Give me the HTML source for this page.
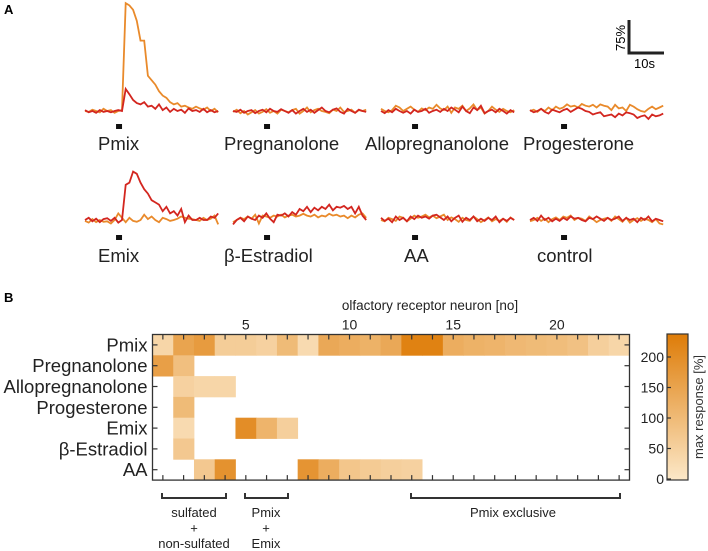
<!DOCTYPE html>
<html><head><meta charset="utf-8"><style>
html,body{margin:0;padding:0;background:#fff;}
svg{display:block;font-family:"Liberation Sans",sans-serif;}
</style></head><body>
<svg id="fig" width="708" height="551" viewBox="0 0 708 551">
<text x="4" y="14" font-size="13" font-weight="bold">A</text>
<text x="4" y="302" font-size="13" font-weight="bold">B</text>
<g>
<path d="M629,20 V53 H664" fill="none" stroke="#222" stroke-width="3"/>
<text x="0" y="0" font-size="13" transform="translate(625,51) rotate(-90)">75%</text>
<text x="634" y="68" font-size="13">10s</text>
</g>
<g id="traces"></g>
<g id="heat"></g>
</svg>
<script>
const NS="http://www.w3.org/2000/svg";
// ---- Panel A data (percent change, 1 point per second) ----
const traceLabels=["Pmix","Pregnanolone","Allopregnanolone","Progesterone","Emix","β-Estradiol","AA","control"];
const orangeTraces=[
[0,-2,3,0,-3,5,0,2,-4,0,2,245,240,230,205,160,160,80,70,60,45,35,30,20,15,18,10,12,8,5,10,6,3,8,0,5,-3],
[-2,3,-5,0,-8,-3,2,-6,-2,4,-4,0,-6,3,0,-3,2,5,-6,0,8,-3,2,5,0,-2,-5,3,0,8,-2,0,3,-4,2,0,3],
[5,0,-3,2,12,8,0,5,10,3,-2,6,2,8,5,14,6,2,10,-4,8,5,12,0,6,15,2,8,-6,0,10,3,-2,5,0,-3,2],
[0,3,-2,5,0,8,2,10,5,8,15,10,12,8,16,12,10,14,8,15,12,10,2,14,6,8,0,14,10,4,0,-2,5,10,4,8,12],
[-2,-6,2,-5,0,-4,-3,-8,0,15,5,-5,5,-2,-4,0,12,2,8,0,-5,5,2,-2,0,3,8,5,3,2,0,-2,5,0,3,10,-10],
[-5,0,5,2,8,3,12,-8,10,8,5,10,8,12,6,10,12,8,10,14,10,8,12,6,10,8,14,10,12,8,10,4,10,6,12,15,5],
[0,-3,5,2,-2,8,5,-3,3,10,5,8,12,6,10,4,8,12,0,6,2,-4,5,0,-2,8,2,-5,0,6,-3,2,-2,3,-4,6,0],
[-3,0,5,-2,3,-5,2,6,0,8,5,10,0,5,3,-2,8,2,-5,0,3,5,-2,8,2,-4,5,-6,0,4,-2,3,0,-5,2,-8,-10]];
const redTraces=[
[2,-3,0,-4,2,-2,0,-3,0,2,0,50,38,25,18,15,20,10,12,5,15,2,8,-2,5,0,3,-4,6,0,2,-2,5,-3,2,-3,0],
[0,-2,3,-4,0,2,-5,0,3,-3,5,0,-2,4,0,-4,2,-6,0,5,-2,3,-4,2,8,0,-3,3,6,-2,-6,5,0,-4,3,0,-2],
[0,-5,2,-3,5,0,-4,0,-6,3,-2,0,5,-4,0,3,-2,5,0,8,3,-3,10,0,-5,8,2,12,-5,0,3,-3,5,0,-6,2,-3],
[2,-3,0,5,-2,-6,3,0,-3,2,5,-2,3,8,5,0,-2,-8,-5,-3,-12,-10,-8,-14,-6,-10,-3,-5,-8,-16,-12,-10,-18,-8,-12,-10,-6],
[0,5,-3,3,-5,2,4,-2,5,-6,0,80,85,110,105,85,70,60,45,40,35,20,30,15,20,10,25,-5,10,0,0,5,0,0,8,5,15],
[-10,0,5,-3,8,3,0,10,5,15,3,-5,12,10,15,8,18,12,25,20,30,18,28,22,30,25,35,22,30,28,32,25,30,15,30,10,0],
[5,-2,3,-5,8,0,5,-3,8,2,10,5,8,3,10,12,6,0,8,-3,5,10,-4,5,0,8,-3,3,-2,5,0,8,-5,3,-2,5,0],
[0,5,-2,10,0,5,-3,3,-2,5,0,8,3,5,0,-3,5,2,8,3,-2,5,0,3,8,-2,5,0,3,-5,5,0,8,-3,3,0,-3]];
const xStart=[85,233,381,530], rowBase=[111,220], rowLab=[150,262];
const markY=[124,235];
const labX=[[98,224,365,523],[98,224,404,537]];
const pxPerSec=3.7, pxPerPct=33/75;
const tg=document.getElementById('traces');
function xT(panel,i){return xStart[panel%4]+i*pxPerSec;}
function yT(panel,v){return rowBase[Math.floor(panel/4)]-v*pxPerPct;}
function linePts(panel,arr){return arr.map((v,i)=>xT(panel,i).toFixed(1)+","+yT(panel,v).toFixed(1)).join(" ");}
for(let p=0;p<8;p++){
  const r=Math.floor(p/4), c=p%4;
  const o=document.createElementNS(NS,'polyline');
  o.setAttribute('points',linePts(p,orangeTraces[p]));
  o.setAttribute('fill','none');o.setAttribute('stroke','#e98a2b');o.setAttribute('stroke-width','1.8');
  
  
  tg.appendChild(o);
  const rd=document.createElementNS(NS,'polyline');
  rd.setAttribute('points',linePts(p,redTraces[p]));
  rd.setAttribute('fill','none');rd.setAttribute('stroke','#d3261f');rd.setAttribute('stroke-width','1.8');
  
  
  tg.appendChild(rd);
  const m=document.createElementNS(NS,'rect');
  m.setAttribute('x',xT(p,9.2)-3);m.setAttribute('y',markY[r]);m.setAttribute('width',6);m.setAttribute('height',5);m.setAttribute('fill','#111');
  
  
  tg.appendChild(m);
  const t=document.createElementNS(NS,'text');
  t.setAttribute('x',labX[r][c]);t.setAttribute('y',rowLab[r]);t.setAttribute('font-size','18.5');t.setAttribute('fill','#222');
  t.textContent=traceLabels[p];
  
  
  tg.appendChild(t);
}
// ---- Panel B heatmap data (max response %, 0 = no response) ----
const odorants=["Pmix","Pregnanolone","Allopregnanolone","Progesterone","Emix","β-Estradiol","AA"];
const neuronTicks=[5,10,15,20];
const cbTicks=[0,50,100,150,200];
const rowPmix=[40,150,170,60,60,50,100,30,140,130,120,140,225,225,130,120,115,105,100,95,85,55,40];
const rowPregnanolone=[160,90,0,0,0,0,0,0,0,0,0,0,0,0,0,0,0,0,0,0,0,0,0];
const rowAllo=[0,50,40,40,0,0,0,0,0,0,0,0,0,0,0,0,0,0,0,0,0,0,0];
const rowProg=[0,100,0,0,0,0,0,0,0,0,0,0,0,0,0,0,0,0,0,0,0,0,0];
const rowEmix=[0,30,0,0,200,115,55,0,0,0,0,0,0,0,0,0,0,0,0,0,0,0,0];
const rowEstr=[0,70,0,0,0,0,0,0,0,0,0,0,0,0,0,0,0,0,0,0,0,0,0];
const rowAA=[0,0,70,190,0,0,0,185,130,75,65,55,50,0,0,0,0,0,0,0,0,0,0];
const heatRows=[rowPmix,rowPregnanolone,rowAllo,rowProg,rowEmix,rowEstr,rowAA];
const hx0=152.5,hy0=334.5,cw=(629.5-152.5)/23,ch=20.8,nCols=23;
const cbX=667,cbW=21,cbTop=334,cbBot=480,cbMax=238,cb0=479;
const hg=document.getElementById('heat');
function colX(i){return hx0+i*cw;}
function rowY(j){return hy0+j*ch;}
function cbY(v){return cb0-(v/50)*30.5;}
function col(v){const t=Math.min(1,v/cbMax);const a=[252,232,200],b=[222,124,8];
 return "rgb("+a.map((x,k)=>Math.round(x+(b[k]-x)*t)).join(",")+")";}
function mk(tag,attrs,name){const e=document.createElementNS(NS,tag);for(const k in attrs)e.setAttribute(k,attrs[k]);
 
 
 hg.appendChild(e);return e;}
heatRows.forEach((row,j)=>row.forEach((v,i)=>{
  if(v>0){mk('rect',{x:colX(i).toFixed(2),y:rowY(j).toFixed(2),width:(cw+0.4).toFixed(2),height:(ch+0.4).toFixed(2),fill:col(v)},'heat-cell');}
}));
mk('rect',{x:hx0,y:hy0,width:cw*nCols,height:ch*7,fill:'none',stroke:'#333','stroke-width':1.3},'heatmap-frame');
for(let i=0;i<nCols;i++){
  mk('line',{x1:colX(i+0.5),x2:colX(i+0.5),y1:hy0,y2:hy0+5,stroke:'#333','stroke-width':1.2},'top-tick');
  mk('line',{x1:colX(i+0.5),x2:colX(i+0.5),y1:hy0+ch*7,y2:hy0+ch*7-5,stroke:'#333','stroke-width':1.2},'bottom-tick');
}
neuronTicks.forEach(n=>{const t=mk('text',{x:colX(n-0.5),y:hy0-5,'font-size':14,'text-anchor':'middle',fill:'#222'},'x-tick-label');t.textContent=n;});
const xt=mk('text',{x:430,y:310,'font-size':13.5,'text-anchor':'middle',fill:'#222'},'x-axis-title');xt.textContent='olfactory receptor neuron [no]';
odorants.forEach((o,j)=>{
  const yc=rowY(j+0.5);
  mk('line',{x1:hx0,x2:hx0+5,y1:yc,y2:yc,stroke:'#333','stroke-width':1.2},'left-tick');
  mk('line',{x1:hx0+cw*nCols,x2:hx0+cw*nCols-5,y1:yc,y2:yc,stroke:'#333','stroke-width':1.2},'right-tick');
  const t=mk('text',{x:hx0-5,y:yc+6.5,'font-size':18.5,'text-anchor':'end',fill:'#222'},'row-label');t.textContent=o;
});
// colorbar
const defs=mk('defs',{},'colorbar-defs');
const lg=document.createElementNS(NS,'linearGradient');lg.setAttribute('id','cbg');lg.setAttribute('x1','0');lg.setAttribute('y1','1');lg.setAttribute('x2','0');lg.setAttribute('y2','0');
[[0,0],[1,cbMax]].forEach(([o,v])=>{const s=document.createElementNS(NS,'stop');s.setAttribute('offset',o);s.setAttribute('stop-color',col(v));lg.appendChild(s);});
defs.appendChild(lg);
mk('rect',{x:cbX,y:cbTop,width:cbW,height:cbBot-cbTop,fill:'url(#cbg)',stroke:'#333','stroke-width':1.2},'colorbar');
cbTicks.forEach(v=>{const y=cbY(v);
  mk('line',{x1:cbX,x2:cbX+4,y1:y,y2:y,stroke:'#333','stroke-width':1.2},'colorbar-tick');
  const t=mk('text',{x:cbX-3,y:y+5,'font-size':14,'text-anchor':'end',fill:'#222'},'colorbar-tick-label');t.textContent=v;});
const ct=mk('text',{x:0,y:0,'font-size':13,'text-anchor':'middle',fill:'#333',transform:'translate(703,407) rotate(-90)'},'colorbar-title');ct.textContent='max response [%]';
// brackets
const brackets=[[162,226,["sulfated","+","non-sulfated"],194],[245,288,["Pmix","+","Emix"],266],[411,620,["Pmix exclusive"],513]];
brackets.forEach(b=>{
  mk('path',{d:`M${b[0]},493 V498 H${b[1]} V493`,fill:'none',stroke:'#333','stroke-width':2},'group-bracket');
  b[2].forEach((s,k)=>{const t=mk('text',{x:b[3],y:517+k*15.5,'font-size':13,'text-anchor':'middle',fill:'#222'},'group-label');t.textContent=s;});
});
</script>
</body></html>
